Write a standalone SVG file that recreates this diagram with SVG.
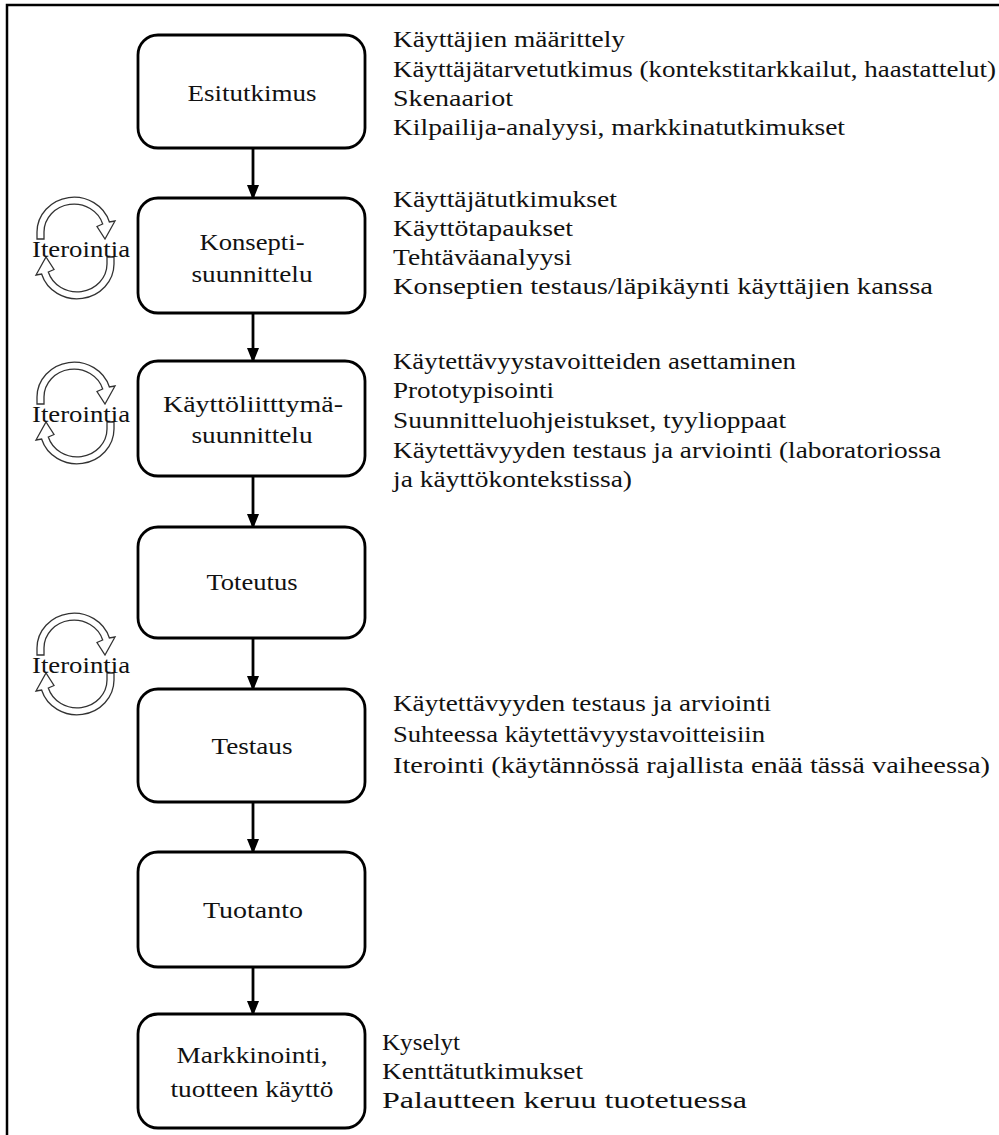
<svg xmlns="http://www.w3.org/2000/svg" xmlns:xlink="http://www.w3.org/1999/xlink" width="999" height="1135" viewBox="0 0 999 1135">
<style>
.box{fill:#fff;stroke:#000;stroke-width:2.8}
.lbl{font-family:"Liberation Serif","Times New Roman",serif;font-size:24px;fill:#111;text-anchor:middle}
.txt{font-family:"Liberation Serif","Times New Roman",serif;font-size:23px;fill:#111}
.conn{stroke:#000;stroke-width:2.8;fill:none}
.loop{fill:#fff;stroke:#333;stroke-width:1.3;stroke-linejoin:miter}
</style>
<defs>
<marker id="ah" viewBox="0 0 12 15" refX="12" refY="6" markerWidth="12" markerHeight="15" markerUnits="userSpaceOnUse" orient="auto">
<path d="M0,0 L15,6 L0,12 Z" fill="#000"/>
</marker>
<path id="arc" d="M37,239 L37,232 A37,35 0 0 1 109.4,222 L115,221 L105,239 L97,226.5 L102.7,224 A30,28 0 0 0 44,232 L44,239 Z"/>
<g id="loopsym">
<use xlink:href="#arc" class="loop"/>
<use xlink:href="#arc" class="loop" transform="rotate(180 75.5 248)"/>
</g>
</defs>
<rect x="7" y="5" width="1100" height="1200" fill="#fff" stroke="#000" stroke-width="2.5"/>

<g id="connectors">
<line class="conn" x1="253" y1="149" x2="253" y2="197" marker-end="url(#ah)"/>
<line class="conn" x1="253" y1="314" x2="253" y2="360" marker-end="url(#ah)"/>
<line class="conn" x1="253" y1="477" x2="253" y2="526" marker-end="url(#ah)"/>
<line class="conn" x1="253" y1="639" x2="253" y2="688" marker-end="url(#ah)"/>
<line class="conn" x1="253" y1="803" x2="253" y2="851" marker-end="url(#ah)"/>
<line class="conn" x1="253" y1="968" x2="253" y2="1013" marker-end="url(#ah)"/>
</g>

<g id="iter1">
<use xlink:href="#loopsym"/>
<text class="lbl" x="81" y="257" textLength="98" lengthAdjust="spacingAndGlyphs" style="font-size:23px">Iterointia</text>
</g>
<g id="iter2" transform="translate(0 165)">
<use xlink:href="#loopsym"/>
<text class="lbl" x="81" y="257" textLength="98" lengthAdjust="spacingAndGlyphs" style="font-size:23px">Iterointia</text>
</g>
<g id="iter3" transform="translate(0 416)">
<use xlink:href="#loopsym"/>
<text class="lbl" x="81" y="257" textLength="98" lengthAdjust="spacingAndGlyphs" style="font-size:23px">Iterointia</text>
</g>

<g id="n1">
<rect class="box" x="138" y="35" width="227" height="113" rx="20"/>
<text class="lbl" x="252" y="101" textLength="129" lengthAdjust="spacingAndGlyphs">Esitutkimus</text>
</g>
<g id="n2">
<rect class="box" x="138" y="198" width="227" height="115" rx="20"/>
<text class="lbl" x="252" y="250" textLength="105" lengthAdjust="spacingAndGlyphs">Konsepti-</text>
<text class="lbl" x="252" y="282" textLength="121" lengthAdjust="spacingAndGlyphs">suunnittelu</text>
</g>
<g id="n3">
<rect class="box" x="138" y="361" width="227" height="115" rx="20"/>
<text class="lbl" x="253" y="412" textLength="180" lengthAdjust="spacingAndGlyphs">Käyttöliitttymä-</text>
<text class="lbl" x="252" y="443" textLength="121" lengthAdjust="spacingAndGlyphs">suunnittelu</text>
</g>
<g id="n4">
<rect class="box" x="138" y="527" width="227" height="111" rx="20"/>
<text class="lbl" x="252" y="590" textLength="91" lengthAdjust="spacingAndGlyphs">Toteutus</text>
</g>
<g id="n5">
<rect class="box" x="138" y="689" width="227" height="113" rx="20"/>
<text class="lbl" x="252" y="754" textLength="81" lengthAdjust="spacingAndGlyphs">Testaus</text>
</g>
<g id="n6">
<rect class="box" x="138" y="852" width="227" height="115" rx="20"/>
<text class="lbl" x="253" y="918" textLength="100" lengthAdjust="spacingAndGlyphs">Tuotanto</text>
</g>
<g id="n7">
<rect class="box" x="138" y="1014" width="227" height="114" rx="20"/>
<text class="lbl" x="252" y="1063" textLength="151" lengthAdjust="spacingAndGlyphs">Markkinointi,</text>
<text class="lbl" x="252" y="1097" textLength="163" lengthAdjust="spacingAndGlyphs">tuotteen käyttö</text>
</g>

<g id="notes1">
<text class="txt" x="393" y="47" textLength="232" lengthAdjust="spacingAndGlyphs">Käyttäjien määrittely</text>
<text class="txt" x="393" y="77" textLength="603" lengthAdjust="spacingAndGlyphs">Käyttäjätarvetutkimus (kontekstitarkkailut, haastattelut)</text>
<text class="txt" x="393" y="106" textLength="120" lengthAdjust="spacingAndGlyphs">Skenaariot</text>
<text class="txt" x="393" y="135" textLength="452" lengthAdjust="spacingAndGlyphs">Kilpailija-analyysi, markkinatutkimukset</text>
</g>
<g id="notes2">
<text class="txt" x="393" y="207" textLength="224" lengthAdjust="spacingAndGlyphs">Käyttäjätutkimukset</text>
<text class="txt" x="393" y="236" textLength="180" lengthAdjust="spacingAndGlyphs">Käyttötapaukset</text>
<text class="txt" x="393" y="265" textLength="179" lengthAdjust="spacingAndGlyphs">Tehtäväanalyysi</text>
<text class="txt" x="393" y="294" textLength="540" lengthAdjust="spacingAndGlyphs">Konseptien testaus/läpikäynti käyttäjien kanssa</text>
</g>
<g id="notes3">
<text class="txt" x="393" y="369" textLength="403" lengthAdjust="spacingAndGlyphs">Käytettävyystavoitteiden asettaminen</text>
<text class="txt" x="393" y="398" textLength="161" lengthAdjust="spacingAndGlyphs">Prototypisointi</text>
<text class="txt" x="393" y="428" textLength="393" lengthAdjust="spacingAndGlyphs">Suunnitteluohjeistukset, tyylioppaat</text>
<text class="txt" x="393" y="458" textLength="548" lengthAdjust="spacingAndGlyphs">Käytettävyyden testaus ja arviointi (laboratoriossa</text>
<text class="txt" x="393" y="487" textLength="239" lengthAdjust="spacingAndGlyphs">ja käyttökontekstissa)</text>
</g>
<g id="notes5">
<text class="txt" x="393" y="711" textLength="378" lengthAdjust="spacingAndGlyphs">Käytettävyyden testaus ja arviointi</text>
<text class="txt" x="393" y="742" textLength="372" lengthAdjust="spacingAndGlyphs">Suhteessa käytettävyystavoitteisiin</text>
<text class="txt" x="393" y="773" textLength="597" lengthAdjust="spacingAndGlyphs">Iterointi (käytännössä rajallista enää tässä vaiheessa)</text>
</g>
<g id="notes7">
<text class="txt" x="382" y="1050" textLength="78" lengthAdjust="spacingAndGlyphs">Kyselyt</text>
<text class="txt" x="382" y="1079" textLength="201" lengthAdjust="spacingAndGlyphs">Kenttätutkimukset</text>
<text class="txt" x="382" y="1108" textLength="365" lengthAdjust="spacingAndGlyphs">Palautteen keruu tuotetuessa</text>
</g>
</svg>
